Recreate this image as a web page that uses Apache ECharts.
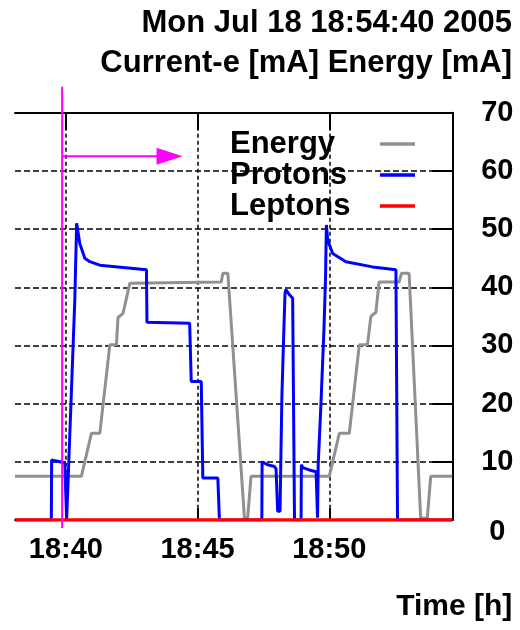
<!DOCTYPE html>
<html><head><meta charset="utf-8">
<script src="https://cdn.jsdelivr.net/npm/echarts@6/dist/echarts.min.js"></script>
<style>html,body{margin:0;padding:0;background:#fff}#c{width:520px;height:630px}</style>
</head><body><div id="c"></div>
<script>
// ---- text ----
const titleLines = ['Mon Jul 18 18:54:40 2005', 'Current-e [mA] Energy [mA]'];
const xAxisName = 'Time [h]';
const seriesNames = ['Energy', 'Protons', 'Leptons'];

// ---- axes (time in minutes after 18:00) ----
const timeMin = 38.07, timeMax = 54.67;
const tickMinutes = [40, 45, 50];
const tickLabels = ['18:40', '18:45', '18:50'];
const yMin = 0, yMax = 70, yStep = 10;

// ---- data ----
const energyTime  = [38.07, 40.59, 40.97, 41.29, 41.67, 41.92, 41.98, 42.17, 42.43, 42.49, 45.90, 45.96, 46.15, 46.78, 46.90, 47.03, 50.00, 50.38, 50.76, 51.14, 51.45, 51.58, 51.77, 51.89, 52.65, 52.74, 53.03, 53.47, 53.72, 53.85, 54.67];
const energyValue = [7.5,   7.5,   14.9,  14.9,  30.1,  30.1,  34.8,  35.5,  40.7,  40.9,  40.9,  42.4,  42.4,  0.3,   0.3,   7.5,   7.5,   14.9,  14.9,  30.1,  30.1,  35.0,  35.7,  40.9,  40.9,  42.4,  42.4,  0.3,   0.3,   7.5,   7.5];

const protonTime  = [38.07, 39.45, 39.46, 39.77, 39.96, 40.02, 40.03, 40.09, 40.34, 40.41, 40.53, 40.72, 40.91, 41.29, 43.06, 43.08, 44.70, 44.76, 45.14, 45.20, 45.77, 45.83, 47.44, 47.45, 47.66, 47.92, 47.98, 48.04, 48.13, 48.20, 48.26, 48.32, 48.35, 48.49, 48.61, 48.67, 48.68, 48.93, 48.94, 48.99, 49.24, 49.50, 49.555, 49.58, 49.69, 49.80, 49.86, 49.89, 49.94, 50.13, 50.63, 51.64, 52.53, 52.59, 54.67];
const protonValue = [0,     0,     10.3,  10.0,  9.8,   9.8,   0,     0,     37.8,  51.0,  47.5,  45.0,  44.4,  43.8,  43.0,  34.0,  33.8,  23.8,  23.8,  7.2,   7.2,   0,     0,     10.0,  9.5,   9.2,   8.8,   1.5,   1.5,   21.0,  30.3,  39.0,  39.6,  38.7,  38.1,  37.8,  0,     0,     9.5,   9.0,   8.6,   8.3,   0.4,   9.5,   20.6,  33.0,  42.0,  50.7,  48.1,  45.8,  44.4,  43.5,  43.0,  0,     0];

const leptonTime  = [38.07, 54.67];
const leptonValue = [0, 0];

// cursor annotation (time, arrow end time, arrow level)
const cursorTime = 39.86, cursorArrowEnd = 44.43, cursorArrowLevel = 62.5;

const zip = (a, b) => a.map((v, i) => [v, b[i]]);
const FONT = '"Liberation Sans", Arial, Helvetica, sans-serif';
const INK = '#000';
const COLORS = ['#909090', '#0000ff', '#ff0000'];

const chart = echarts.init(document.getElementById('c'), null, {renderer: 'canvas'});

const xCommon = {
  type: 'value', min: timeMin, max: timeMax,
  axisLine: {show: true, onZero: false, lineStyle: {color: INK, width: 2}},
};

const option = {
  animation: false,
  backgroundColor: '#fff',
  title: [
    {text: titleLines[0], right: 8, top: 8, padding: 0,
     textStyle: {fontFamily: FONT, fontSize: 31, fontWeight: 'bold', color: INK}},
    {text: titleLines[1], right: 8, top: 48, padding: 0,
     textStyle: {fontFamily: FONT, fontSize: 31, fontWeight: 'bold', color: INK}}
  ],
  legend: {
    data: seriesNames.map(n => ({name: n, icon: 'rect'})),
    orient: 'vertical', left: 230, top: 128.5, padding: 0, itemGap: 0,
    itemWidth: 35, itemHeight: 3.5, align: 'right',
    formatter: n => '{n|' + n + '}',
    textStyle: {rich: {n: {width: 145, align: 'left', fontSize: 31, fontWeight: 'bold', fontFamily: FONT, color: INK, lineHeight: 31.5}}}
  },
  grid: {left: 15, right: 67.7, top: 112.7, bottom: 110, containLabel: false},
  xAxis: [
    Object.assign({}, xCommon, {
      position: 'bottom',
      name: xAxisName, nameLocation: 'end', nameGap: 60,
      nameTextStyle: {fontFamily: FONT, fontSize: 30, fontWeight: 'bold', color: INK, align: 'right', verticalAlign: 'top', padding: [72, 0, 0, 0]},
      axisTick: {show: true, inside: true, length: 12, customValues: tickMinutes, lineStyle: {color: INK, width: 2}},
      axisLabel: {show: true, customValues: tickMinutes, margin: 15,
        formatter: v => tickLabels[tickMinutes.indexOf(Math.round(v))] || '',
        fontFamily: FONT, fontSize: 29, fontWeight: 'bold', color: INK},
      splitLine: {show: true, lineStyle: {color: INK, width: 1.5, type: [4, 3]}}
    }),
    Object.assign({}, xCommon, {
      position: 'top',
      axisTick: {show: true, inside: true, length: 17, customValues: tickMinutes, lineStyle: {color: INK, width: 2}},
      axisLabel: {show: false},
      splitLine: {show: false}
    })
  ],
  yAxis: [{
    type: 'value', position: 'right', min: yMin, max: yMax, interval: yStep,
    axisLine: {show: true, lineStyle: {color: INK, width: 2}},
    axisTick: {show: true, inside: true, length: 20, lineStyle: {color: INK, width: 2}},
    axisLabel: {show: true, align: 'center', margin: 45,
      formatter: v => v === 0 ? '{z|0}' : String(v),
      fontFamily: FONT, fontSize: 29, fontWeight: 'bold', color: INK,
      rich: {z: {padding: [24, 0, 0, 0], fontFamily: FONT, fontSize: 29, fontWeight: 'bold', color: INK}}},
    splitLine: {show: true, lineStyle: {color: INK, width: 1.5, type: [6, 3]}}
  }],
  series: [
    {name: seriesNames[0], type: 'line', xAxisIndex: 0, yAxisIndex: 0, symbol: 'none',
     data: zip(energyTime, energyValue), lineStyle: {color: COLORS[0], width: 3}, itemStyle: {color: COLORS[0]}, z: 2},
    {name: seriesNames[1], type: 'line', xAxisIndex: 0, yAxisIndex: 0, symbol: 'none',
     data: zip(protonTime, protonValue), lineStyle: {color: COLORS[1], width: 3}, itemStyle: {color: COLORS[1]}, z: 3},
    {name: seriesNames[2], type: 'line', xAxisIndex: 0, yAxisIndex: 0, symbol: 'none',
     data: zip(leptonTime, leptonValue), lineStyle: {color: COLORS[2], width: 3.5}, itemStyle: {color: COLORS[2]}, z: 4}
  ]
};
chart.setOption(option);

// cursor annotation drawn through the axes' own scales
const pBase = chart.convertToPixel({xAxisIndex: 0, yAxisIndex: 0}, [cursorTime, cursorArrowLevel]);
const pTip = chart.convertToPixel({xAxisIndex: 0, yAxisIndex: 0}, [cursorArrowEnd, cursorArrowLevel]);
const pTop = chart.convertToPixel({xAxisIndex: 0, yAxisIndex: 0}, [cursorTime, yMax]);
const pBot = chart.convertToPixel({xAxisIndex: 0, yAxisIndex: 0}, [cursorTime, yMin]);
const MAG = '#ff00ff';
chart.setOption({
  graphic: [
    {type: 'line', z: 10, shape: {x1: pTop[0], y1: pTop[1] - 26, x2: pBot[0], y2: pBot[1] + 8}, style: {stroke: MAG, lineWidth: 2}},
    {type: 'line', z: 10, shape: {x1: pBase[0], y1: pBase[1], x2: pTip[0] - 20, y2: pTip[1]}, style: {stroke: MAG, lineWidth: 2}},
    {type: 'polygon', z: 10, shape: {points: [[pTip[0], pTip[1]], [pTip[0] - 26, pTip[1] - 8.5], [pTip[0] - 26, pTip[1] + 8.5]]}, style: {fill: MAG}}
  ]
});
</script>
</body></html>
